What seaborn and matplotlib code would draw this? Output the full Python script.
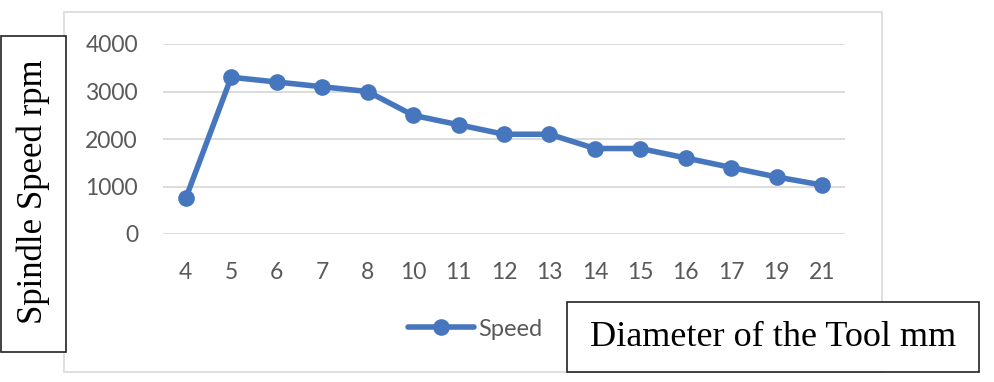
import matplotlib
matplotlib.use("Agg")
import matplotlib.pyplot as plt
import seaborn as sns
import pandas as pd
from matplotlib.patches import Rectangle

diameters = ["4", "5", "6", "7", "8", "10", "11", "12", "13", "14", "15", "16", "17", "19", "21"]
speeds = [750, 3300, 3200, 3100, 3000, 2500, 2300, 2100, 2100, 1800, 1800, 1600, 1400, 1200, 1030]
y_ticks = [0, 1000, 2000, 3000, 4000]

sns.set_theme(style="white")
plt.rcParams['font.family'] = ['Lato', 'DejaVu Sans']

W, H = 994, 382
fig = plt.figure(figsize=(W/100, H/100), dpi=100)
ax = fig.add_axes([163/W, 1-234/H, (845-163)/W, (234-44)/H])

df = pd.DataFrame({"Diameter": diameters, "Speed": speeds})
sns.lineplot(data=df, x="Diameter", y="Speed", ax=ax, color="#4677BE", linewidth=4.0,
             marker="o", markersize=12, markeredgewidth=0, sort=False, label="Speed")

ax.set_ylim(0, 4000)
ax.set_xlim(-0.5, len(diameters)-0.5)
ax.set_yticks(y_ticks)
ax.yaxis.grid(True, color="#d9d9d9", linewidth=1.3)
ax.set_axisbelow(True)
for s in ax.spines.values():
    s.set_visible(False)
ax.tick_params(axis="both", length=0, labelsize=16.5, labelcolor="#595959")
ax.tick_params(axis="x", pad=20.5)
ax.tick_params(axis="y", pad=18)
ax.set_xlabel("")
ax.set_ylabel("")

leg = ax.legend(loc="center", bbox_to_anchor=(475/W, 1-329/H), bbox_transform=fig.transFigure,
                frameon=False, fontsize=17, handlelength=2.8, handletextpad=0.15)
for t in leg.get_texts():
    t.set_color("#595959")

# outer chart frame
fig.patches.append(Rectangle((64/W, 1-372/H), (882-64)/W, (372-12)/H, transform=fig.transFigure,
                             fill=False, edgecolor="#d9d9d9", linewidth=1.2))
# y label box
fig.patches.append(Rectangle((1/W, 1-352/H), (66-1)/W, (352-36)/H, transform=fig.transFigure,
                             facecolor="white", edgecolor="#222222", linewidth=1.2, zorder=5))
fig.text(33/W, 1-192/H, "Spindle Speed rpm", rotation=90, ha="center", va="center",
         fontsize=25, family="Liberation Serif", color="black", zorder=6)
# x label box
fig.patches.append(Rectangle((567/W, 1-372/H), (979-567)/W, (372-302)/H, transform=fig.transFigure,
                             facecolor="white", edgecolor="#222222", linewidth=1.2, zorder=5))
fig.text(773/W, 1-337/H, "Diameter of the Tool mm", ha="center", va="center",
         fontsize=26, family="Liberation Serif", color="black", zorder=6)

fig.savefig("out.png", dpi=100)
